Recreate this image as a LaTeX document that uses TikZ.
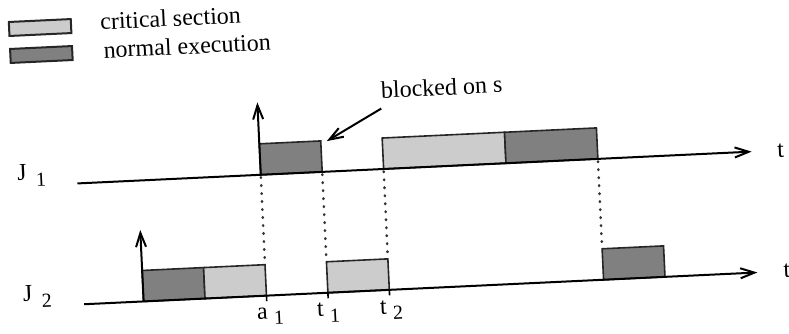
\documentclass[tikz,border=0pt]{standalone}
\usepackage{fontspec}
\setmainfont{Liberation Serif}
\newfontfamily\timesfont{Liberation Serif}
\usetikzlibrary{arrows.meta}
\begin{document}
\begin{tikzpicture}[x=0.5pt,y=-0.5pt,
  crit/.style={draw=black!85, line width=0.8pt, fill=black!20},
  norm/.style={draw=black!85, line width=0.8pt, fill=black!50},
  axis/.style={line width=1pt, -{Straight Barb[length=7pt,width=5pt]}},
  dots/.style={line width=1.3pt, dash pattern=on 0.3pt off 3.7pt, line cap=round, black!80},
  tick/.style={line width=0.8pt},
  lbl/.style={inner sep=0pt, font=\timesfont\fontsize{12}{14}\selectfont},
  ]
\useasboundingbox (0,0) rectangle (789,333);
\begin{scope}[rotate around={2.7:(394,166)}, transform shape]
  % legend
  \draw[crit, line width=1pt] (16,4) rectangle (78,18);
  \draw[norm, line width=1pt] (16,31) rectangle (78,45);
  \node[lbl, anchor=base west] (lgc) at (107,16) {critical section};
  \node[lbl, anchor=base west] (lgn) at (109,44.5) {normal execution};

  % job J1
  \node[lbl, anchor=base west] (J1) at (17,163) {J\hspace{4.5pt}\raisebox{-3.2pt}{\timesfont\fontsize{10}{12}\selectfont 1}};
  \draw[norm] (260.5,137.5) rectangle (322,168.5);
  \draw[crit] (383.5,137.5) rectangle (506,168.5);
  \draw[norm] (506,137.5) rectangle (598,168.5);
  \coordinate (j1s) at (77,168.5);
  \coordinate (j1e) at (752,168.5);
  \draw[axis] (j1s) -- (j1e);
  \node[lbl] (t1end) at (781,169) {t};
  \coordinate (a1top) at (260.5,168.5);
  \coordinate (a1up) at (260.5,96);
  \draw[axis] (a1top) -- (a1up);

  % job J2
  \node[lbl, anchor=base west] (J2) at (17,284) {J\hspace{4.5pt}\raisebox{-3.2pt}{\timesfont\fontsize{10}{12}\selectfont 2}};
  \draw[norm] (137.5,258.5) rectangle (199,289.5);
  \draw[crit] (199,258.5) rectangle (260.5,289.5);
  \draw[crit] (322,258.5) rectangle (383.5,289.5);
  \draw[norm] (598,258.5) rectangle (659.5,289.5);
  \coordinate (j2s) at (78,289.5);
  \coordinate (j2e) at (752,289.5);
  \draw[axis] (j2s) -- (j2e);
  \node[lbl] (t2end) at (781.5,289) {t};
  \coordinate (a2bot) at (137.5,289.5);
  \coordinate (a2up) at (137.5,218);
  \draw[axis] (a2bot) -- (a2up);

  % instants carried from J1 down to J2
  \foreach \x in {260.5,322,383.5,598}
    \draw[dots] (\x,171) -- (\x,256);
  \foreach \x in {260.5,322,383.5}
    \draw[tick] (\x,289.5) -- (\x,295);

  % time labels
  \node[lbl, anchor=base west] (la1) at (250,312.5) {a\hspace{3pt}\raisebox{-3pt}{\timesfont\fontsize{10}{12}\selectfont 1}};
  \node[lbl, anchor=base west] (lt1) at (310,313) {t\hspace{3pt}\raisebox{-3pt}{\timesfont\fontsize{10}{12}\selectfont 1}};
  \node[lbl, anchor=base west] (lt2) at (373,313.5) {t\hspace{3pt}\raisebox{-3pt}{\timesfont\fontsize{10}{12}\selectfont 2}};

  % blocking annotation
  \node[lbl, anchor=base] (blk) at (445.3,97.5) {blocked on s};
  \coordinate (blkfrom) at (384,108);
  \coordinate (blkto) at (328,138);
  \draw[axis] (blkfrom) -- (blkto);
\end{scope}
\end{tikzpicture}
\end{document}
